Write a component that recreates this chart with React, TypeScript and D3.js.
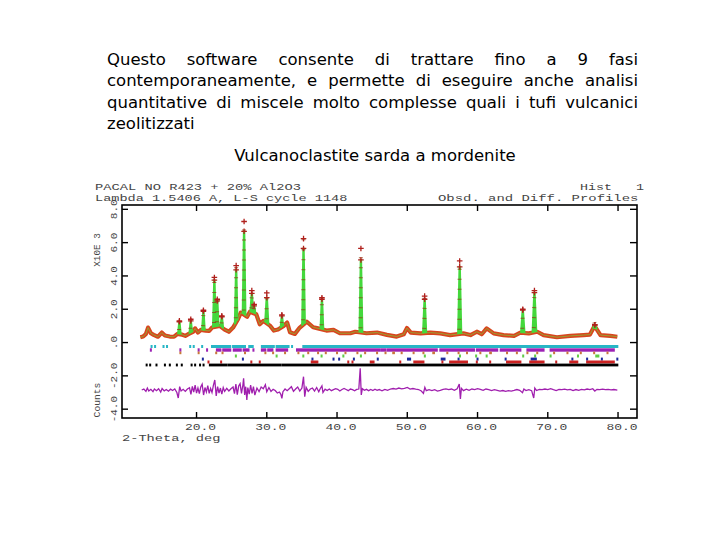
import React, { useEffect, useRef } from "react";
import * as d3 from "d3";

// ---------- text content ----------
const paragraphLines = [
  "Questo software consente di trattare fino a 9 fasi",
  "contemporaneamente, e permette di eseguire anche analisi",
  "quantitative di miscele molto complesse quali i tufi vulcanici",
  "zeolitizzati",
];
const chartTitle = "Vulcanoclastite sarda a mordenite";
const headerLeft = ["PACAL NO R423 + 20% Al2O3", "Lambda 1.5406 A, L-S cycle 1148"];
const headerRight = ["Hist   1", "Obsd. and Diff. Profiles"];
const xTickValues = [20, 30, 40, 50, 60, 70, 80];
const xTickLabels = ["20.0", "30.0", "40.0", "50.0", "60.0", "70.0", "80.0"];
const yTickValues = [-4000, -2000, 0, 2000, 4000, 6000, 8000];
const yTickLabels = ["-4.0", "-2.0", ".0", "2.0", "4.0", "6.0", "8.0"];
const xAxisTitle = "2-Theta, deg";
const yAxisTitleTop = "X10E 3";
const yAxisTitleBottom = "Counts";

// ---------- data: background of observed profile [2theta, counts] ----------
const background: [number, number][] = [
  [12.0, 320], [12.4, 360], [12.8, 520], [13.1, 900], [13.5, 560], [13.9, 460], [14.5, 350],
  [15.05, 600], [15.5, 420], [16.2, 360], [16.8, 350], [17.3, 520], [17.9, 480], [18.4, 400],
  [18.9, 520], [19.5, 640], [19.8, 850], [20.2, 600], [20.6, 760], [21.3, 720], [21.8, 700],
  [22.2, 900], [23.3, 1000], [24.0, 780], [24.6, 650], [25.2, 900], [25.9, 1400], [26.3, 1800],
  [27.2, 1550], [27.6, 1850], [28.5, 1700], [29.0, 1100], [29.5, 1300], [30.5, 1000], [31.0, 720],
  [31.6, 780], [32.4, 1000], [32.9, 1200], [33.3, 620], [34.0, 520], [34.7, 900], [35.7, 1250],
  [36.6, 920], [37.3, 850], [38.5, 720], [39.5, 760], [40.4, 560], [41.9, 560], [42.6, 650],
  [44.2, 560], [45.7, 600], [47.1, 460], [48.5, 360], [49.5, 500], [49.96, 870], [50.5, 600],
  [51.9, 550], [53.3, 600], [54.7, 550], [56.1, 450], [58.0, 550], [59.0, 450], [59.9, 650],
  [60.6, 500], [61.3, 850], [62.3, 550], [63.7, 450], [65.2, 400], [66.1, 590], [67.3, 550],
  [68.5, 650], [69.4, 450], [71.3, 320], [73.2, 400], [75.1, 450], [76.0, 480], [76.65, 1000],
  [77.5, 450], [78.9, 400], [79.9, 350],
];

// peaks: [2theta, observed apex, calculated apex, half width (deg)]
const peaks: [number, number, number, number][] = [
  [17.56, 1300, 1250, 0.16], [19.18, 1400, 1300, 0.16], [20.98, 1940, 1880, 0.16],
  [22.54, 3910, 3750, 0.17], [22.95, 2600, 2500, 0.16], [23.6, 1600, 1550, 0.16],
  [25.64, 4620, 4370, 0.16], [26.77, 7270, 6680, 0.17], [27.87, 3120, 2950, 0.17],
  [28.2, 2290, 2200, 0.16], [30.0, 2980, 2700, 0.2], [32.15, 1660, 1600, 0.16],
  [35.23, 6240, 5650, 0.17], [37.85, 2690, 2600, 0.17], [43.4, 5650, 4960, 0.18],
  [52.47, 2790, 2600, 0.2], [57.46, 4900, 4550, 0.2], [66.44, 2000, 1950, 0.22],
  [68.1, 3120, 3000, 0.24], [76.7, 1070, 1050, 0.25],
];

// difference curve (obs - calc) [2theta, counts], drawn with an offset
const diffOffset = -2850;
const diffCurve: [number, number][] = [
  [12.2, 0], [12.5, 60], [12.8, -80], [13.0, 120], [13.2, -60], [13.5, 40], [13.8, -100], [14.0, 60],
  [14.3, -40], [14.6, 80], [14.9, -120], [15.1, 90], [15.4, -50], [15.7, 30], [16.0, -70], [16.3, 50],
  [16.6, -30], [16.9, 70], [17.2, -150], [17.4, -480], [17.6, 200], [17.8, -60], [18.1, 40], [18.4, -80],
  [18.7, 60], [19.0, 140], [19.2, -260], [19.4, 220], [19.6, -120], [19.8, 300], [20.0, -180], [20.2, 120],
  [20.4, -220], [20.6, 180], [20.8, 350], [21.0, -300], [21.2, 150], [21.4, -120], [21.6, 260], [21.8, -200],
  [22.0, 100], [22.2, -150], [22.4, 280], [22.6, 600], [22.8, -350], [23.0, 200], [23.2, -180], [23.4, 120],
  [23.6, -250], [23.8, 150], [24.0, -80], [24.3, 100], [24.6, -60], [24.9, 80], [25.2, 180], [25.4, -220],
  [25.6, 350], [25.8, -280], [26.0, 240], [26.2, 380], [26.4, -200], [26.6, 300], [26.7, 700], [26.85, -300],
  [27.0, 200], [27.16, -600], [27.3, 150], [27.5, -250], [27.7, 300], [27.9, -200], [28.1, 200], [28.3, -300],
  [28.6, 120], [28.9, -100], [29.2, 180], [29.5, 80], [29.8, 320], [30.0, -100], [30.3, 150], [30.6, -80],
  [30.9, 40], [31.2, -30], [31.5, -180], [31.8, -120], [32.0, -260], [32.15, -500], [32.3, -100], [32.6, 60],
  [32.9, -40], [33.2, 80], [33.5, 200], [33.8, -80], [34.1, 60], [34.4, 180], [34.7, -60], [35.0, 120],
  [35.23, 800], [35.4, -400], [35.6, 160], [35.9, -80], [36.2, 60], [36.5, 120], [36.8, -60], [37.1, 150],
  [37.4, -100], [37.6, 80], [37.85, 250], [38.0, -150], [38.3, 50], [38.6, -30], [38.9, 60], [39.2, -40],
  [39.5, 20], [39.8, 80], [40.1, 40], [40.4, -60], [40.7, 30], [41.0, 90], [41.3, 30], [41.6, -40],
  [41.9, 60], [42.2, 20], [42.5, -50], [42.8, 40], [43.1, 60], [43.3, 1300], [43.45, -300], [43.6, 80],
  [43.9, -20], [44.2, 40], [44.5, -40], [44.8, 30], [45.1, -30], [45.4, 50], [45.7, -20], [46.0, 30],
  [46.4, -50], [46.8, 40], [47.2, -20], [47.6, 60], [48.0, 90], [48.4, 60], [48.8, 120], [49.2, 70],
  [49.6, 100], [50.0, 160], [50.4, 60], [50.8, 90], [51.2, 50], [51.6, 30], [52.0, -60], [52.3, -200],
  [52.5, 160], [52.7, -40], [53.1, 20], [53.5, -30], [53.9, 20], [54.3, -60], [54.7, -20], [55.1, 40],
  [55.5, 70], [55.9, 20], [56.3, 60], [56.7, -20], [57.1, 80], [57.4, 360], [57.56, -540], [57.7, 100],
  [58.0, -40], [58.4, 50], [58.8, -20], [59.2, 60], [59.6, 30], [60.0, 80], [60.4, 40], [60.8, -20],
  [61.2, 60], [61.6, 20], [62.0, -30], [62.4, 20], [62.8, -20], [63.2, -60], [63.6, -30], [64.0, -80],
  [64.4, -40], [64.8, -60], [65.2, -20], [65.6, 30], [66.0, -20], [66.4, -160], [66.6, 60], [66.9, -30],
  [67.3, 20], [67.7, -40], [68.0, -480], [68.15, 120], [68.4, -30], [68.8, 40], [69.2, 20], [69.6, 60],
  [70.0, 30], [70.4, 80], [70.8, 20], [71.2, -30], [71.6, 40], [72.0, 20], [72.4, 50], [72.8, 10],
  [73.2, 40], [73.6, -30], [74.0, 30], [74.4, -20], [74.8, 40], [75.2, 10], [75.6, 60], [76.0, 30],
  [76.4, 80], [76.7, -60], [77.0, 40], [77.4, 20], [77.8, 50], [78.2, 20], [78.6, 40], [79.0, 10],
  [79.4, 30], [79.9, 0],
];

// reflection markers per phase: [from, to] in 2theta
const phaseCyan: [number, number][] = [
  [13.6, 13.6], [14.1, 14.1], [15.3, 15.3], [15.8, 15.8], [19.1, 19.1], [19.6, 19.6], [20.8, 20.8],
  [22.2, 24.8], [25.2, 26.9], [27.5, 28.0], [29.3, 31.0], [31.4, 33.1], [33.6, 33.6], [35.2, 79.9],
];
const phasePurple: [number, number][] = [
  [13.5, 13.5], [17.7, 17.7], [20.3, 20.3], [21.5, 21.5], [22.9, 23.4], [23.8, 24.8], [25.3, 26.3],
  [26.7, 27.4], [28.1, 28.1], [29.3, 29.8], [30.2, 30.8], [31.4, 32.9], [34.3, 46.1], [46.4, 46.9],
  [47.2, 54.2], [54.7, 59.5], [59.9, 62.8], [63.3, 66.1], [67.1, 69.4], [70.4, 79.4],
];
const phaseOrange: [number, number][] = [
  [17.7, 17.7], [20.3, 20.3], [22.8, 22.8], [23.7, 23.7], [26.9, 26.9], [29.8, 29.8], [30.9, 30.9],
  [32.6, 32.6], [34.5, 34.5], [35.9, 35.9], [37.3, 37.3], [38.4, 38.4], [40.0, 40.0], [41.2, 41.2],
  [42.9, 42.9], [44.0, 44.0], [45.7, 45.7], [46.9, 46.9], [48.0, 48.1], [49.2, 49.2], [50.9, 50.9],
  [52.3, 52.3], [53.7, 53.8], [55.7, 55.7], [57.3, 57.3], [58.5, 58.5], [60.4, 60.4], [61.8, 61.9],
  [64.2, 64.2], [65.6, 65.6], [67.1, 67.1], [68.5, 68.5], [70.9, 70.9], [72.8, 72.8], [74.7, 74.7],
  [76.6, 76.6], [78.5, 78.5],
];
const phaseGreen: [number, number][] = [
  [25.6, 25.6], [31.4, 31.4], [35.2, 35.2], [37.8, 37.8], [40.9, 40.9], [43.4, 43.4], [52.5, 52.5],
  [57.5, 57.5], [59.8, 59.8], [61.3, 61.3], [66.5, 66.5], [68.2, 68.2], [70.4, 70.4], [74.3, 74.3],
  [76.9, 77.2],
];
const phaseBlue: [number, number][] = [
  [20.9, 20.9], [26.6, 26.6], [36.5, 36.5], [39.5, 39.5], [40.3, 40.3], [42.4, 42.4], [45.8, 45.8],
  [50.1, 50.4], [54.9, 55.3], [57.3, 57.3], [60.0, 60.0], [64.0, 64.0], [67.7, 68.3], [73.5, 73.5],
  [75.6, 75.6], [77.7, 77.7], [79.9, 79.9],
];
const phaseRed: [number, number][] = [
  [21.7, 21.7], [23.5, 23.5], [27.8, 27.8], [29.0, 29.0], [36.4, 37.2], [41.6, 41.6], [42.2, 42.2],
  [44.8, 45.2], [49.0, 49.0], [51.0, 52.3], [55.0, 55.0], [56.1, 58.5], [59.9, 59.9], [61.8, 61.8],
  [64.2, 66.1], [67.5, 69.4], [71.2, 71.2], [73.2, 74.2], [75.6, 79.4],
];
const phaseBlack: [number, number][] = [
  [12.9, 12.9], [13.4, 13.4], [14.3, 14.3], [15.5, 15.5], [16.2, 16.2], [17.2, 17.2], [17.9, 17.9],
  [19.3, 19.3], [19.8, 19.8], [20.5, 20.5], [21.0, 21.0], [21.9, 24.3], [24.6, 31.9], [32.2, 79.9],
];

// ---------- layout / style ----------
const FRAME = { left: 122, right: 637, top: 205, bottom: 418 };
const phaseRows = [
  { data: phaseCyan, color: "#27b6c6", top: 345, h: 3 },
  { data: phasePurple, color: "#9c22b4", top: 348.3, h: 3.4 },
  { data: phaseOrange, color: "#c8773a", top: 351.6, h: 2.6 },
  { data: phaseGreen, color: "#62cc46", top: 354.5, h: 3 },
  { data: phaseBlue, color: "#1b2a9c", top: 357.6, h: 3 },
  { data: phaseRed, color: "#cc2222", top: 360.5, h: 3 },
  { data: phaseBlack, color: "#000000", top: 363.6, h: 2.8 },
];
const paraBaselines = [64.5, 86, 107.5, 129];

export default function App() {
  const ref = useRef<SVGSVGElement | null>(null);

  useEffect(() => {
    const svg = d3.select(ref.current!);
    svg.selectAll("*").remove();
    svg.append("rect").attr("width", 720).attr("height", 540).attr("fill", "#fff");

    // paragraph, justified
    const para = svg.append("g").attr("font-family", "'DejaVu Sans', sans-serif").attr("font-size", 16.5).attr("fill", "#000");
    paragraphLines.forEach((line, i) => {
      const words = line.split(" ");
      const texts = words.map((w) => para.append("text").attr("y", paraBaselines[i]).text(w));
      const widths = texts.map((t) => (t.node() as SVGTextElement).getComputedTextLength());
      const total = d3.sum(widths);
      const justify = i < paragraphLines.length - 1 && words.length > 1;
      const gap = justify ? (638 - 107 - total) / (words.length - 1) : 5;
      let cx = 107;
      texts.forEach((t, j) => {
        t.attr("x", cx);
        cx += widths[j] + gap;
      });
    });
    svg.append("text").attr("x", 375).attr("y", 161).attr("text-anchor", "middle")
      .attr("font-family", "'DejaVu Sans', sans-serif").attr("font-size", 16.5).attr("fill", "#000")
      .text(chartTitle);

    const x = d3.scaleLinear().domain([9.39, 82.7]).range([FRAME.left, FRAME.right]);
    const y = d3.scaleLinear().domain([-4530, 8260]).range([FRAME.bottom, FRAME.top]);

    const mono = (g: any, s: string, px: number, py: number, perChar: number, anchor = "start", fs = 9) =>
      g.append("text").attr("x", px).attr("y", py).attr("text-anchor", anchor)
        .attr("font-family", "'Liberation Mono', monospace").attr("font-size", fs)
        .attr("fill", "#444")
        .attr("textLength", s.length * perChar).attr("lengthAdjust", "spacingAndGlyphs")
        .attr("xml:space", "preserve")
        .text(s);

    // header
    mono(svg, headerLeft[0], 95, 189.5, 8.24);
    mono(svg, headerLeft[1], 95, 200.5, 8.14);
    mono(svg, headerRight[0], 580, 189.5, 8.0);
    mono(svg, headerRight[1], 438, 200.5, 8.35);

    const plot = svg.append("g");
    const line = d3.line<[number, number]>().x((d) => x(d[0])).y((d) => y(d[1]));
    const bgAt = (t: number) => {
      const i = d3.bisector((d: [number, number]) => d[0]).left(background, t);
      if (i <= 0) return background[0][1];
      if (i >= background.length) return background[background.length - 1][1];
      const a = background[i - 1], b = background[i];
      return a[1] + ((t - a[0]) / (b[0] - a[0])) * (b[1] - a[1]);
    };

    // observed band
    plot.append("path").attr("d", line(background)!).attr("fill", "none")
      .attr("stroke", "#d8461e").attr("stroke-width", 4.2).attr("stroke-linejoin", "round");
    // calc over background
    plot.append("path").attr("d", line(background)!).attr("fill", "none")
      .attr("stroke", "#9aa032").attr("stroke-width", 1.0).attr("stroke-linejoin", "round");

    // calc peaks
    peaks.forEach(([p, , calc, hw]) => {
      const pts: [number, number][] = [[p - hw, bgAt(p - hw)], [p, calc], [p + hw, bgAt(p + hw)]];
      plot.append("path").attr("d", line(pts)!).attr("fill", "#44d83c")
        .attr("stroke", "#44d83c").attr("stroke-width", 2.4).attr("stroke-linejoin", "round");
    });
    // observed stems (sparse + markers)
    peaks.forEach(([p, obs, , hw]) => {
      const pts: [number, number][] = [[p - hw * 0.3, bgAt(p) + 250], [p, obs]];
      plot.append("path").attr("d", line(pts)!).attr("fill", "none")
        .attr("stroke", "#8e4418").attr("stroke-opacity", 0.8).attr("stroke-width", 4)
        .attr("stroke-dasharray", "1 9");
    });
    // + markers at observed apex and calc apex
    peaks.forEach(([p, obs, calc]) => {
      [obs, calc].forEach((v) => {
        const cx = x(p), cy = y(v);
        plot.append("path").attr("d", `M${cx - 2.8},${cy}H${cx + 2.8}M${cx},${cy - 2.8}V${cy + 2.8}`)
          .attr("stroke", "#b0201c").attr("stroke-width", 1.3);
      });
    });

    // reflection tick rows
    phaseRows.forEach((row) => {
      plot.append("g").selectAll("rect").data(row.data).join("rect")
        .attr("x", (d) => x(d[0]) - 1)
        .attr("width", (d) => Math.max(x(d[1]) - x(d[0]) + 2, 2))
        .attr("y", row.top).attr("height", row.h).attr("fill", row.color);
    });

    // difference curve
    plot.append("path")
      .attr("d", d3.line<[number, number]>().x((d) => x(d[0])).y((d) => y(d[1] + diffOffset))(diffCurve)!)
      .attr("fill", "none").attr("stroke", "#a01fae").attr("stroke-width", 1.3);

    // frame and ticks
    const ax = svg.append("g").attr("stroke", "#000");
    ax.append("rect").attr("x", FRAME.left).attr("y", FRAME.top)
      .attr("width", FRAME.right - FRAME.left).attr("height", FRAME.bottom - FRAME.top)
      .attr("fill", "none").attr("stroke-width", 1.6);
    xTickValues.forEach((t) => {
      ax.append("line").attr("x1", x(t)).attr("x2", x(t)).attr("y1", FRAME.bottom).attr("y2", FRAME.bottom - 6).attr("stroke-width", 1.4);
      ax.append("line").attr("x1", x(t)).attr("x2", x(t)).attr("y1", FRAME.top).attr("y2", FRAME.top + 6).attr("stroke-width", 1.4);
    });
    yTickValues.forEach((t) => {
      ax.append("line").attr("x1", FRAME.left).attr("x2", FRAME.left + 6).attr("y1", y(t)).attr("y2", y(t)).attr("stroke-width", 1.4);
      ax.append("line").attr("x1", FRAME.right).attr("x2", FRAME.right - 7).attr("y1", y(t)).attr("y2", y(t)).attr("stroke-width", 1.4);
    });

    // axis labels
    xTickValues.forEach((t, i) => mono(svg, xTickLabels[i], x(t) + 4, 430, 7.8, "middle"));
    mono(svg, xAxisTitle, 122, 441, 8.2);
    yTickValues.forEach((t, i) => {
      const s = yTickLabels[i];
      mono(svg, s, 0, 0, 6.6, "middle").attr("transform", `translate(117,${y(t)}) rotate(-90)`);
    });
    mono(svg, yAxisTitleTop, 0, 0, 5.6, "middle").attr("transform", `translate(100,250) rotate(-90)`);
    mono(svg, yAxisTitleBottom, 0, 0, 5.8, "middle").attr("transform", `translate(100,400) rotate(-90)`);
  }, []);

  return (
    <svg
      ref={ref}
      width={720}
      height={540}
      style={{ position: "absolute", left: 0, top: 0, display: "block" }}
    />
  );
}
